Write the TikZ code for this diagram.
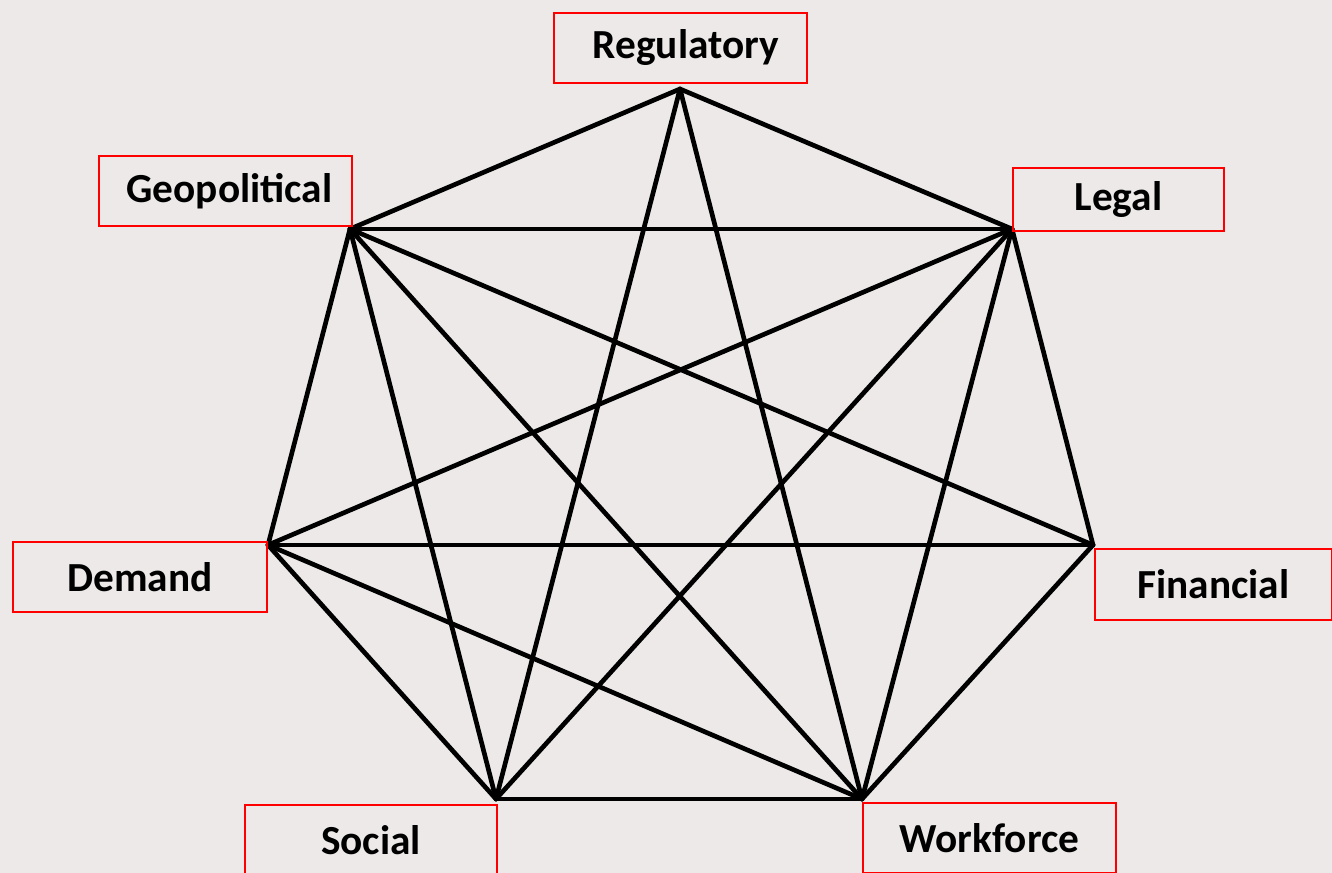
\documentclass[tikz,border=0pt]{standalone}
\usepackage{fontspec}
\setmainfont{Carlito}
\usepackage{tikz}
\usetikzlibrary{positioning}
\usepackage{xcolor}

\definecolor{bgpaper}{RGB}{237,233,233}

\tikzset{
  edge/.style={black, line width=3.5pt, line cap=round},
  riskbox/.style={draw=red, line width=1.5pt, fill=none, inner sep=0pt,
    font=\fontsize{31}{34}\selectfont\bfseries, text=black}
}

\begin{document}
\begin{tikzpicture}[x=0.75pt, y=-0.75pt]

\fill[bgpaper] (0,0) rectangle (1332,873);
\useasboundingbox (0,0) rectangle (1332,873);

% corners of the heptagon
\coordinate (reg) at (680,89);
\coordinate (leg) at (1012,229);
\coordinate (fin) at (1093,545);
\coordinate (wor) at (862,799);
\coordinate (soc) at (496,799);
\coordinate (dem) at (268,545);
\coordinate (geo) at (350,229);

% links between the risks
\foreach \a/\b in {reg/geo, reg/leg, reg/soc, reg/wor,
                   geo/leg, geo/dem, geo/soc, geo/wor, geo/fin,
                   leg/fin, leg/wor, leg/soc, leg/dem,
                   dem/fin, dem/soc, dem/wor,
                   fin/wor, soc/wor} {
  \draw[edge] (\a) -- (\b);
}

\node[riskbox, minimum width=189.75pt, minimum height=52.5pt] (regulatory) at (680.5,48) {\hspace{8pt}Regulatory};
\node[riskbox, minimum width=158.25pt, minimum height=47.25pt] (legal) at (1118.5,200) {Legal};
\node[riskbox, minimum width=177.75pt, minimum height=53.25pt] (financial) at (1213.5,584) {Financial};
\node[riskbox, minimum width=189.75pt, minimum height=52.5pt] (workforce) at (989.5,838) {Workforce};
\node[riskbox, minimum width=189pt, minimum height=52.5pt] (social) at (371,840) {Social\hspace{10pt}};
\node[riskbox, minimum width=190.5pt, minimum height=52.5pt] (demand) at (140,577) {Demand};
\node[riskbox, minimum width=189.75pt, minimum height=52.5pt] (geopolitical) at (225.5,191) {\hspace{6pt}Geopolitical};

\end{tikzpicture}
\end{document}
